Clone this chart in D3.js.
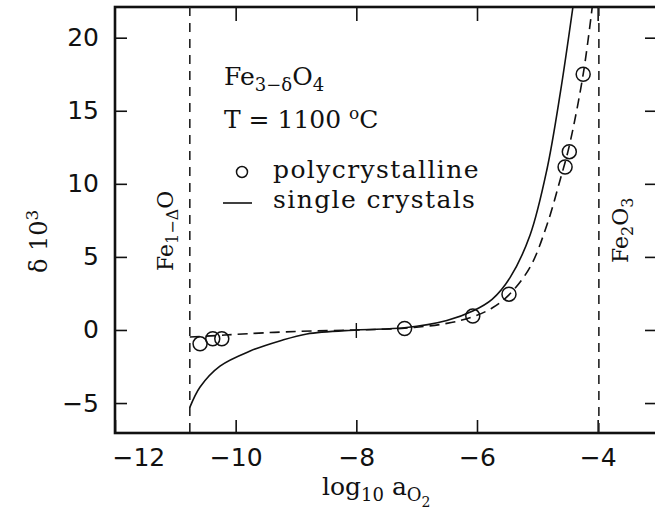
<!doctype html>
<html>
<head>
  <script src="https://cdnjs.cloudflare.com/ajax/libs/d3/7.8.5/d3.min.js"></script>
  <style>
    body { margin: 0; background: #fff; }
    svg { display: block; }
    .tick text { font-family: "DejaVu Sans", sans-serif; font-size: 25px; fill: #111; }
    .ann { font-family: "DejaVu Serif", serif; fill: #111; }
  </style>
</head>
<body>
  <svg id="chart" width="655" height="515"></svg>
  <script>
    // axis ticks
    var xTicks = [-12, -10, -8, -6, -4];
    var yTicks = [-5, 0, 5, 10, 15, 20];

    // polycrystalline measurements (circles)
    var polyX = [-10.59, -10.38, -10.23, -7.2, -6.07, -5.47, -4.54, -4.47, -4.24];
    var polyY = [-0.95, -0.6, -0.6, 0.1, 0.95, 2.45, 11.15, 12.2, 17.5];

    // dashed fit through the polycrystalline data
    var polyFitX = [-10.76, -10.3, -10, -9, -8, -7.2, -6.5, -6.07, -5.75, -5.47, -5.12, -4.84, -4.62, -4.47, -4.24, -4.09];
    var polyFitY = [-0.48, -0.38, -0.3, -0.1, 0, 0.12, 0.45, 0.9, 1.5, 2.4, 4.3, 7.2, 10.3, 12.6, 17.5, 22.1];

    // single crystals (solid line)
    var singleX = [-10.76, -10.59, -10.26, -9.76, -9.27, -8.82, -8, -7.2, -6.5, -6.07, -5.75, -5.45, -5.12, -4.84, -4.62, -4.41];
    var singleY = [-5.3, -3.9, -2.47, -1.44, -0.75, -0.27, 0, 0.15, 0.65, 1.3, 2.1, 3.6, 6.5, 11.0, 16.2, 22.1];

    // phase boundaries
    var boundaryX = [-10.76, -3.98];

    var mLeft = 115, mRight = 658, mTop = 7, mBottom = 433;

    var x = d3.scaleLinear().domain([-12, -3]).range([mLeft, mRight]);
    var y = d3.scaleLinear().domain([-7.05, 22.1]).range([mBottom, mTop]);

    var svg = d3.select("#chart");

    svg.append("clipPath").attr("id", "clip")
      .append("rect")
      .attr("x", mLeft).attr("y", mTop)
      .attr("width", mRight - mLeft).attr("height", mBottom - mTop);

    // axes with inward ticks
    var fmt = d3.format("d");
    var xAxis = svg.append("g")
      .attr("transform", "translate(0," + mBottom + ")")
      .call(d3.axisBottom(x).tickValues(xTicks).tickFormat(d => fmt(d)).tickSize(-13));
    xAxis.selectAll(".tick text").attr("dy", "0.71em").attr("y", 15);
    xAxis.selectAll(".tick text").filter(d => d === -12).attr("text-anchor", "start").attr("x", -3);
    xAxis.select(".domain").remove();

    var xTop = svg.append("g")
      .attr("transform", "translate(0," + mTop + ")")
      .call(d3.axisTop(x).tickValues(xTicks.slice(1)).tickFormat("").tickSize(-14));
    xTop.select(".domain").remove();

    var yAxis = svg.append("g")
      .attr("transform", "translate(" + mLeft + ",0)")
      .call(d3.axisLeft(y).tickValues(yTicks).tickFormat(d => fmt(d)).tickSize(-12).tickPadding(16));
    yAxis.select(".domain").remove();

    var yRight = svg.append("g")
      .attr("transform", "translate(" + (mRight - 3) + ",0)")
      .call(d3.axisRight(y).tickValues(yTicks).tickFormat("").tickSize(-10));
    yRight.select(".domain").remove();

    svg.selectAll(".tick line").attr("stroke", "#111").attr("stroke-width", 1.6);

    // frame
    svg.append("rect")
      .attr("x", mLeft).attr("y", mTop)
      .attr("width", mRight - mLeft).attr("height", mBottom - mTop)
      .attr("fill", "none").attr("stroke", "#111").attr("stroke-width", 2.6);

    var plot = svg.append("g").attr("clip-path", "url(#clip)");

    // phase boundary lines
    plot.selectAll(".boundary")
      .data(boundaryX)
      .enter()
      .append("line")
      .attr("class", "boundary")
      .attr("x1", d => x(d)).attr("x2", d => x(d))
      .attr("y1", mTop).attr("y2", mBottom)
      .attr("stroke", "#222").attr("stroke-width", 1.6)
      .attr("stroke-dasharray", "9,7");

    var line = d3.line()
      .x(d => x(d[0]))
      .y(d => y(d[1]))
      .curve(d3.curveCatmullRom.alpha(0.5));

    plot.append("path")
      .datum(d3.zip(singleX, singleY))
      .attr("d", line)
      .attr("fill", "none").attr("stroke", "#111").attr("stroke-width", 1.6);

    plot.append("path")
      .datum(d3.zip(polyFitX, polyFitY))
      .attr("d", line)
      .attr("fill", "none").attr("stroke", "#111").attr("stroke-width", 1.6)
      .attr("stroke-dasharray", "10,6");

    // reference mark at the stoichiometric point
    plot.append("line")
      .attr("x1", x(-8)).attr("x2", x(-8))
      .attr("y1", y(0) - 7).attr("y2", y(0) + 8)
      .attr("stroke", "#111").attr("stroke-width", 1.4);

    plot.selectAll("circle")
      .data(d3.zip(polyX, polyY))
      .enter()
      .append("circle")
      .attr("cx", d => x(d[0]))
      .attr("cy", d => y(d[1]))
      .attr("r", 7)
      .attr("fill", "none").attr("stroke", "#111").attr("stroke-width", 1.5);

    // annotations
    var t1 = svg.append("text").attr("class", "ann").attr("x", 224).attr("y", 85).style("font-size", "25px");
    t1.append("tspan").text("Fe");
    t1.append("tspan").attr("dy", 6).style("font-size", "18px").text("3−δ");
    t1.append("tspan").attr("dy", -6).text("O");
    t1.append("tspan").attr("dy", 6).style("font-size", "18px").text("4");

    var t2 = svg.append("text").attr("class", "ann").attr("x", 224).attr("y", 128).style("font-size", "25px");
    t2.append("tspan").text("T = 1100 ");
    t2.append("tspan").attr("dy", -9).style("font-size", "17px").text("o");
    t2.append("tspan").attr("dy", 9).text("C");

    svg.append("circle")
      .attr("cx", 242).attr("cy", 172).attr("r", 5.5)
      .attr("fill", "none").attr("stroke", "#111").attr("stroke-width", 1.5);
    svg.append("line")
      .attr("x1", 223).attr("x2", 252).attr("y1", 203).attr("y2", 203)
      .attr("stroke", "#111").attr("stroke-width", 1.6);

    svg.append("text").attr("class", "ann").attr("x", 273).attr("y", 178)
      .style("font-size", "25px").style("letter-spacing", "1.4px").text("polycrystalline");
    svg.append("text").attr("class", "ann").attr("x", 273).attr("y", 208)
      .style("font-size", "25px").style("letter-spacing", "1.4px").text("single crystals");

    // rotated phase labels
    var f1 = svg.append("text").attr("class", "ann")
      .attr("transform", "translate(173,271) rotate(-90)").style("font-size", "22px");
    f1.append("tspan").text("Fe");
    f1.append("tspan").attr("dy", 5).style("font-size", "16px").text("1−Δ");
    f1.append("tspan").attr("dy", -5).text("O");

    var f2 = svg.append("text").attr("class", "ann")
      .attr("transform", "translate(628,263) rotate(-90)").style("font-size", "22px");
    f2.append("tspan").text("Fe");
    f2.append("tspan").attr("dy", 5).style("font-size", "16px").text("2");
    f2.append("tspan").attr("dy", -5).text("O");
    f2.append("tspan").attr("dy", 5).style("font-size", "16px").text("3");

    // axis titles
    var xl = svg.append("text").attr("class", "ann").attr("x", 322).attr("y", 495).style("font-size", "25px");
    xl.append("tspan").text("log");
    xl.append("tspan").attr("dy", 6).style("font-size", "18px").text("10");
    xl.append("tspan").attr("dy", -6).text(" a");
    xl.append("tspan").attr("dy", 6).style("font-size", "18px").text("O");
    xl.append("tspan").attr("dy", 6).style("font-size", "14px").text("2");

    var yl = svg.append("text").attr("class", "ann")
      .attr("transform", "translate(47,273) rotate(-90)").style("font-size", "24px");
    yl.append("tspan").text("δ  10");
    yl.append("tspan").attr("dy", -9).style("font-size", "17px").text("3");
  </script>
</body>
</html>
